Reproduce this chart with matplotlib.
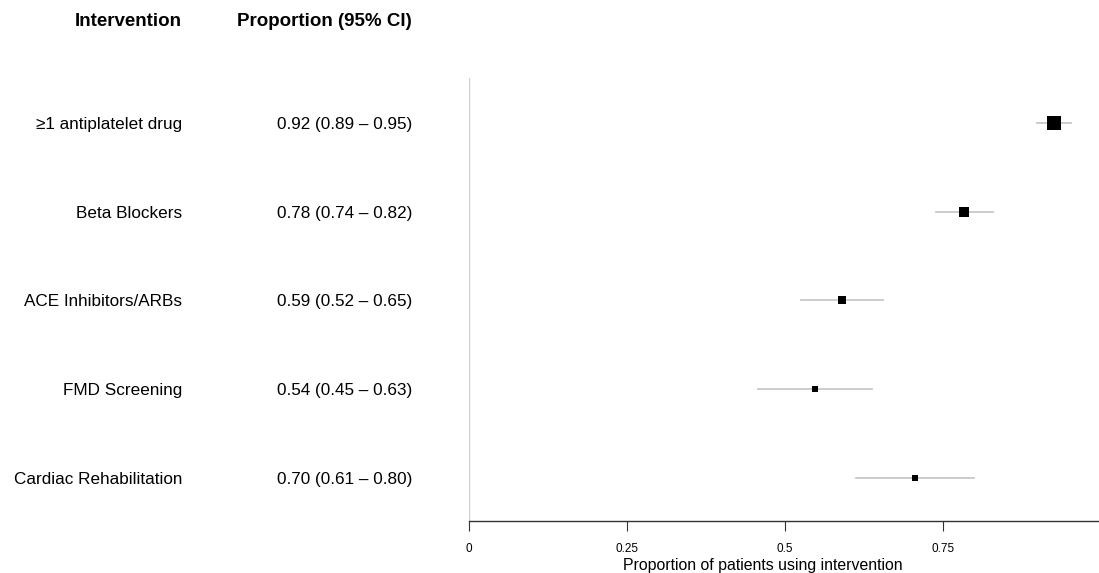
import matplotlib.pyplot as plt
from matplotlib import transforms

plt.rcParams['font.family'] = ['Liberation Sans', 'DejaVu Sans']

interventions = ['\u22651 antiplatelet drug', 'Beta Blockers', 'ACE Inhibitors/ARBs',
                 'FMD Screening', 'Cardiac Rehabilitation']
ci_labels = ['0.92 (0.89 \u2013 0.95)', '0.78 (0.74 \u2013 0.82)', '0.59 (0.52 \u2013 0.65)',
             '0.54 (0.45 \u2013 0.63)', '0.70 (0.61 \u2013 0.80)']
est = [0.925, 0.783, 0.590, 0.547, 0.706]
lo = [0.899, 0.739, 0.525, 0.457, 0.612]
hi = [0.953, 0.829, 0.655, 0.638, 0.799]
xticks = [0, 0.25, 0.5, 0.75]
xtick_labels = ['0', '0.25', '0.5', '0.75']

# box size per row (points)
box = [10.1, 7.2, 6.0, 4.4, 4.8]

fig = plt.figure(figsize=(10.99, 5.73), dpi=100)
ax = fig.add_axes([469 / 1099, 1 - 521 / 573, 630 / 1099, 443 / 573])

n = len(interventions)
ypos = list(range(n, 0, -1))

for i in range(n):
    ax.plot([lo[i], hi[i]], [ypos[i], ypos[i]], color='#c8c8c8', lw=1.3, zorder=1)
    ax.plot(est[i], ypos[i], marker='s', color='black', markersize=box[i],
            markeredgewidth=0, linestyle='none', zorder=2)

ax.set_xlim(0, 0.997)
ax.set_ylim(0.515, 5.505)
ax.axvline(0, color='#d0d0d0', lw=1.0)

for s in ['top', 'right', 'left']:
    ax.spines[s].set_visible(False)
ax.spines['bottom'].set_color('#333333')
ax.spines['bottom'].set_linewidth(1.0)
ax.set_yticks([])
ax.set_xticks(xticks)
ax.set_xticklabels(xtick_labels, fontsize=8.5)
ax.tick_params(axis='x', length=7, width=0.8, color='#333333', pad=9)
ax.set_xlabel('Proportion of patients using intervention', fontsize=11.4, labelpad=0)
ax.xaxis.set_label_coords((763 - 469) / 630, -0.083)

trans = transforms.blended_transform_factory(fig.transFigure, ax.transData)
for i in range(n):
    ax.text(182 / 1099, ypos[i], interventions[i], transform=trans,
            ha='right', va='center_baseline', fontsize=12.3)
    ax.text(412 / 1099, ypos[i], ci_labels[i], transform=trans,
            ha='right', va='center_baseline', fontsize=12.3)

fig.text(182 / 1099, 1 - 21 / 573, 'Intervention', ha='right', va='center',
         fontsize=13.5, fontweight='bold')
fig.text(412 / 1099, 1 - 21 / 573, 'Proportion (95% CI)', ha='right', va='center',
         fontsize=13.5, fontweight='bold')

fig.savefig('out.png', dpi=100)
